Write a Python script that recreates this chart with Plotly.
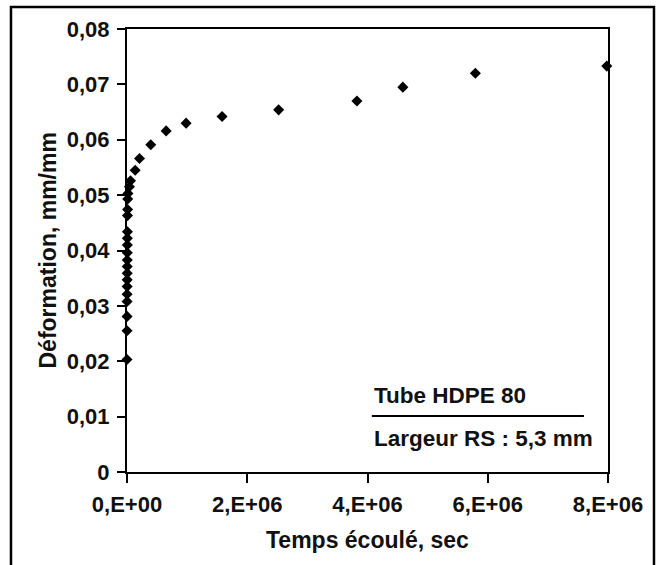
import plotly.graph_objects as go

# Elapsed time (s) and strain (mm/mm)
temps_s = [0, 500, 1000, 1500, 2000, 2500, 3000, 3500, 4000, 4500, 5000, 5500,
           6000, 7000, 8000, 10000, 12000, 16000,
           40000, 58000, 136000, 208000, 395000, 651000, 983000, 1581000,
           2522000, 3824000, 4588000, 5794000, 7980000]
deformation = [0.0203, 0.0255, 0.0281, 0.0308, 0.0321, 0.0335, 0.0347, 0.0359,
               0.0371, 0.0383, 0.0396, 0.0410, 0.0422, 0.0434, 0.0463, 0.0474,
               0.0493, 0.0503,
               0.0515, 0.0526, 0.0545, 0.0566, 0.0591, 0.0616, 0.0630, 0.0642,
               0.0654, 0.0670, 0.0695, 0.0720, 0.0733]

x_tick_vals = [0, 2e6, 4e6, 6e6, 8e6]
x_tick_labels = ["0,E+00", "2,E+06", "4,E+06", "6,E+06", "8,E+06"]
y_tick_vals = [0, 0.01, 0.02, 0.03, 0.04, 0.05, 0.06, 0.07, 0.08]
y_tick_labels = ["0", "0,01", "0,02", "0,03", "0,04", "0,05", "0,06", "0,07", "0,08"]

x_title = "Temps écoulé, sec"
y_title = "Déformation, mm/mm"
legend_line1 = "Tube HDPE 80"
legend_line2 = "Largeur RS : 5,3 mm"

FONT = "Liberation Sans, Arial, sans-serif"

fig = go.Figure()
fig.add_trace(go.Scatter(
    x=temps_s, y=deformation, mode="markers",
    marker=dict(symbol="diamond", size=8.5, color="black"),
    cliponaxis=False, showlegend=False, hoverinfo="x+y",
))

axis_common = dict(
    showgrid=False, zeroline=False, showline=True, linecolor="black", linewidth=2,
    mirror=True, ticks="outside", tickcolor="black", tickwidth=2,
    tickfont=dict(family=FONT, size=22, color="#111", weight="bold"),
)

fig.update_xaxes(range=[0, 8e6], tickvals=x_tick_vals, ticktext=x_tick_labels,
                 ticklen=9, ticklabelstandoff=3, **axis_common)
fig.update_yaxes(range=[0, 0.08], tickvals=y_tick_vals, ticktext=y_tick_labels,
                 ticklen=8, ticklabelstandoff=3, **axis_common)

title_font = dict(family=FONT, size=23, color="#111", weight="bold")
note_font = dict(family=FONT, size=22.5, color="#111", weight="bold")
fig.add_annotation(text=x_title, xref="paper", yref="paper", x=0.5, y=-0.1535,
                   xanchor="center", yanchor="middle", showarrow=False, font=title_font)
fig.add_annotation(text=y_title, xref="paper", yref="paper", x=-0.1663, y=0.5,
                   xanchor="center", yanchor="middle", textangle=-90, showarrow=False,
                   font=title_font)
fig.add_annotation(text=legend_line1, xref="paper", yref="paper", x=0.509, y=0.1716,
                   xanchor="left", yanchor="middle", showarrow=False, font=note_font)
fig.add_annotation(text=legend_line2, xref="paper", yref="paper", x=0.509, y=0.0767,
                   xanchor="left", yanchor="middle", showarrow=False, font=note_font)
fig.add_shape(type="line", xref="paper", yref="paper", x0=0.509, x1=0.950,
              y0=0.1264, y1=0.1264, line=dict(color="black", width=2))
# outer frame
fig.add_shape(type="rect", xref="paper", yref="paper", x0=-0.2412, x1=1.0956,
              y0=-0.215, y1=1.0497, line=dict(color="black", width=2.5),
              fillcolor="rgba(0,0,0,0)", layer="above")

fig.update_layout(
    width=662, height=565,
    margin=dict(l=127, r=54, t=29, b=93, autoexpand=False),
    paper_bgcolor="white", plot_bgcolor="white",
    font=dict(family=FONT, color="#111"),
)

fig.write_html("out.html", config={"displayModeBar": False},
               post_script="document.body.style.margin='0';document.body.style.overflow='hidden';")
